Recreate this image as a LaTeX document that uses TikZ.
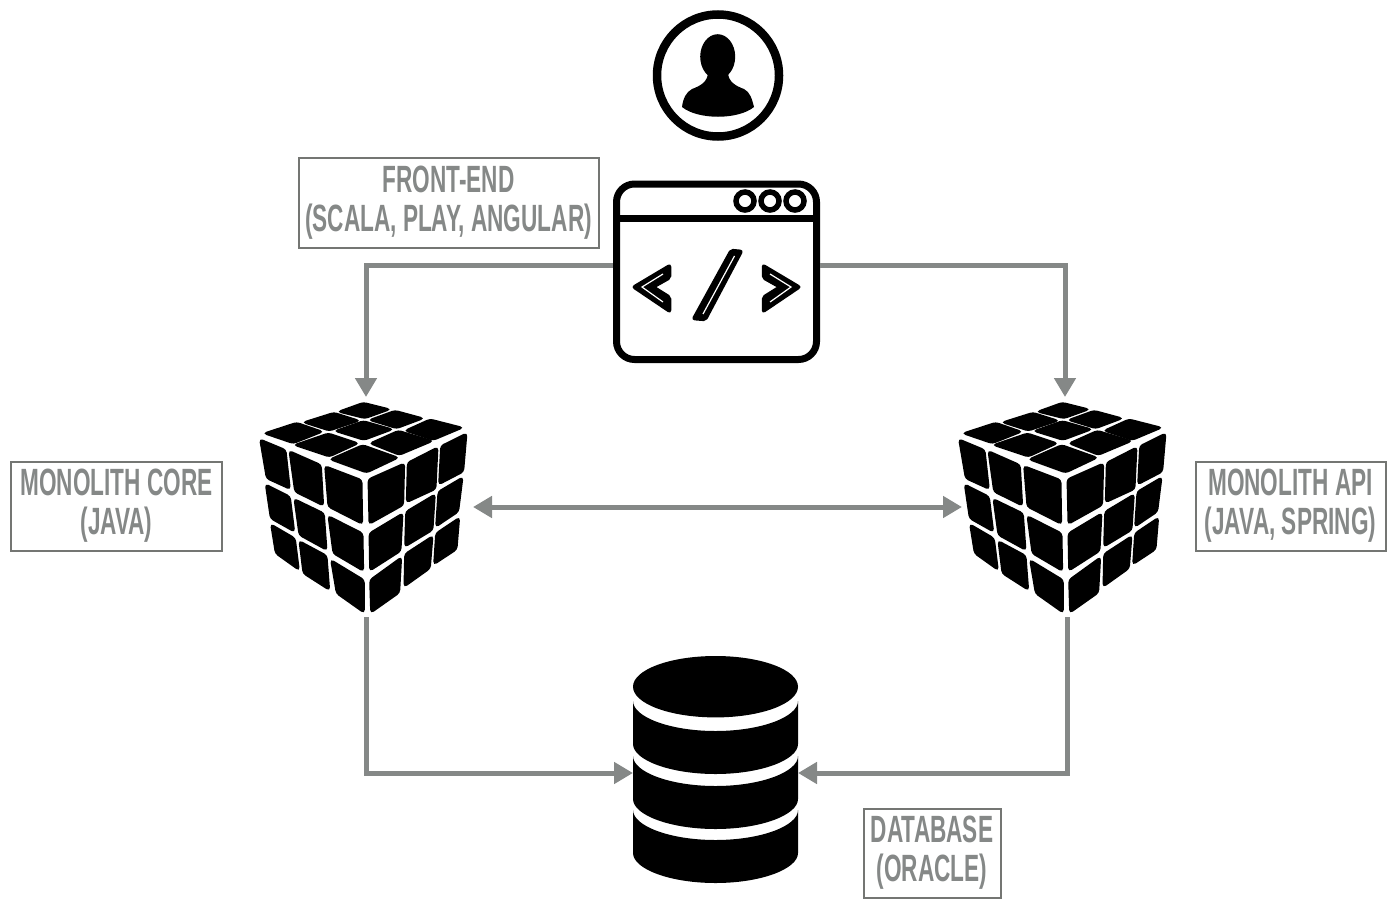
\documentclass[tikz,border=0pt]{standalone}
\usepackage{fontspec}
\setmainfont[FakeStretch=0.595,BoldFont={Liberation Sans Bold},BoldFeatures={FakeStretch=0.595}]{Liberation Sans}
\usetikzlibrary{arrows.meta,positioning,calc}
\definecolor{flowgray}{HTML}{858887}
\definecolor{boxgray}{HTML}{747673}
\definecolor{taggray}{HTML}{858887}
\tikzset{
    every picture/.style={line width=0.75pt},
    flow/.style={draw=flowgray,line width=5pt},
    tip/.style={-{Triangle[length=19pt,width=21pt]}},
    tips/.style={{Triangle[length=19pt,width=21pt]}-{Triangle[length=19pt,width=21pt]}},
    anchorbox/.style={inner sep=0pt,outer sep=0pt},
    tag/.style={draw=boxgray,line width=2pt,text=taggray,align=center,inner sep=0pt,font=\fontsize{38}{39}\selectfont\bfseries},
    facet/.style={fill=black,draw=black,line width=1.6pt,rounded corners=3pt},
    glyph/.style={fill=black,draw=black,line width=2.5pt,rounded corners=2pt},
}
% one cube, top left corner of its frame at (#1,#2)
\newcommand{\puzzlecube}[2]{
    \begin{scope}[shift={(#1,#2)},x=0.3333pt,y=-0.3333pt]
        \foreach \a/\b/\c/\d in {
            {370,38}/{450,58}/{375,85}/{295,65},
            {282,68}/{358,92}/{268,122}/{190,97},
            {465,62}/{550,85}/{470,115}/{388,90},
            {370,93}/{458,118}/{372,150}/{285,123},
            {170,98}/{248,125}/{160,160}/{72,130},
            {570,88}/{668,113}/{580,150}/{495,122},
            {265,130}/{355,160}/{268,200}/{163,165},
            {475,122}/{578,153}/{478,195}/{390,160},
            {368,165}/{475,203}/{380,248}/{270,208},
            {60,148}/{137,180}/{150,297}/{80,265},
            {148,183}/{243,225}/{250,347}/{165,305},
            {255,228}/{365,270}/{367,402}/{265,350},
            {77,283}/{150,320}/{163,425}/{92,385},
            {163,327}/{252,370}/{260,480}/{178,435},
            {265,378}/{368,430}/{370,543}/{280,490},
            {93,403}/{165,445}/{177,540}/{107,490},
            {178,453}/{260,497}/{268,600}/{190,550},
            {273,510}/{372,570}/{372,668}/{290,610},
            {385,268}/{493,220}/{490,345}/{388,402},
            {503,218}/{593,172}/{587,297}/{500,337},
            {603,168}/{680,130}/{670,245}/{597,283},
            {388,430}/{488,370}/{482,483}/{390,542},
            {498,365}/{585,313}/{578,420}/{495,470},
            {595,305}/{668,262}/{655,365}/{588,410},
            {390,570}/{484,502}/{478,608}/{393,668},
            {495,492}/{578,438}/{570,535}/{493,590},
            {588,430}/{658,383}/{650,478}/{582,523}}
        {
            \path[facet] (\a) -- (\b) -- (\c) -- (\d) -- cycle;
        }
    \end{scope}
}
% one slab of the database: edge heights of its top and bottom
\newcommand{\dbslab}[2]{
    \fill (633,#1) .. controls (633,#1+16) and (670,#1+30) .. (715.5,#1+30)
        .. controls (761,#1+30) and (798,#1+16) .. (798,#1)
        -- (798,#2) .. controls (798,#2+16) and (761,#2+30) .. (715.5,#2+30)
        .. controls (670,#2+30) and (633,#2+16) .. (633,#2) -- cycle;
}
\begin{document}
\begin{tikzpicture}[x=1pt,y=-1pt]
    \useasboundingbox (0,0) rectangle (1396,910);

    % User
    \draw[line width=8.5pt] (718,75.5) circle (61);
    \fill (717.7,56.7) ellipse (17.5 and 22.5);
    \fill (708,72) .. controls (708,82) and (700,86) .. (692,89)
        .. controls (686,92) and (683,99) .. (682,107)
        .. controls (698,120) and (738,120) .. (754,107)
        .. controls (752,99) and (750,92) .. (744,89)
        .. controls (736,86) and (728,82) .. (728,72) -- cycle;

    % Browser
    \draw[line width=7pt,rounded corners=18pt] (616.5,184) rectangle (816.5,359.5);
    \draw[line width=7pt] (616.5,218) -- (816.5,218);
    \foreach \x in {745,770,795}
        \draw[line width=5.5pt] (\x,201) circle (9);
    \path[glyph] (633,287) -- (670,265) -- (670,278) -- (654,287)
        -- (670,297) -- (670,312) -- cycle;
    \path[glyph] (800,287) -- (763,265) -- (763,278) -- (779,287)
        -- (763,297) -- (763,312) -- cycle;
    \path[glyph] (731,250) -- (742,251) -- (705.5,320) -- (693,319) -- cycle;
    \draw[white,line width=1.2pt] (663,274) -- (642,287) -- (663,302);
    \draw[white,line width=1.2pt] (770,274) -- (791,287) -- (770,302);
    \draw[white,line width=1.2pt] (734.5,256) -- (703,314);

    % Cubes
    \puzzlecube{240}{390}
    \puzzlecube{939}{390}

    % Database
    \fill (715.5,686.7) ellipse (82.5 and 30.7);
    \dbslab{701}{744}
    \dbslab{756}{799}
    \dbslab{810}{853}

    % Places the connectors attach to
    \node[anchorbox,minimum width=207pt,minimum height=168pt] (browser) at (716.5,265) {};
    \node[anchorbox,minimum width=214pt,minimum height=220pt] (core) at (366,507) {};
    \node[anchorbox,minimum width=206pt,minimum height=220pt] (api) at (1065,507) {};
    \node[anchorbox,minimum width=165pt,minimum height=234pt] (db) at (715.5,773) {};

    % Connectors
    \draw[flow,tip] (browser.west) -| (core.north);
    \draw[flow,tip] (browser.east) -| (api.north);
    \draw[flow,tips] (core.east) -- (api.west);
    \draw[flow,tip] (core.south) |- (db.west);
    \draw[flow,tip] ([xshift=2pt]api.south) |- (db.east);

    % Labels
    \node[tag,minimum width=300pt,minimum height=90pt] (frontend) at (448.5,202.5) {FRONT-END\\(SCALA, PLAY, ANGULAR)};
    \node[tag,minimum width=211pt,minimum height=89pt] (corelabel) at (116.5,506) {MONOLITH CORE\\(JAVA)};
    \node[tag,minimum width=190pt,minimum height=89pt] (apilabel) at (1290.5,506) {MONOLITH API\\(JAVA, SPRING)};
    \node[tag,minimum width=137pt,minimum height=89pt] (dblabel) at (932,853) {DATABASE\\(ORACLE)};
\end{tikzpicture}
\end{document}
